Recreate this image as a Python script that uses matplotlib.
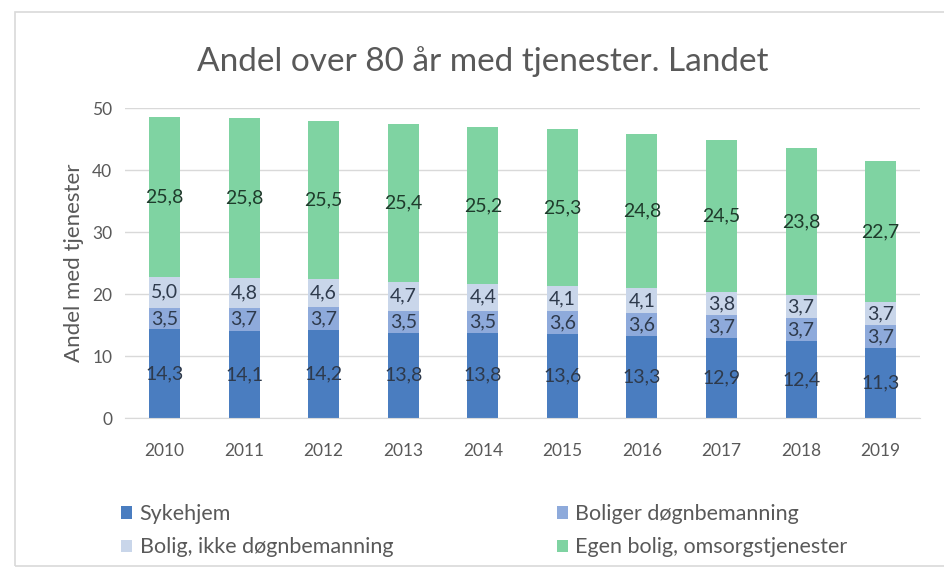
import numpy as np
import matplotlib.pyplot as plt
import matplotlib.patches as patches

plt.rcParams['font.family'] = ['Lato', 'DejaVu Sans']

years = ['2010', '2011', '2012', '2013', '2014', '2015', '2016', '2017', '2018', '2019']
sykehjem = [14.3, 14.1, 14.2, 13.8, 13.8, 13.6, 13.3, 12.9, 12.4, 11.3]
boliger_dogn = [3.5, 3.7, 3.7, 3.5, 3.5, 3.6, 3.6, 3.7, 3.7, 3.7]
bolig_ikke_dogn = [5.0, 4.8, 4.6, 4.7, 4.4, 4.1, 4.1, 3.8, 3.7, 3.7]
egen_bolig = [25.8, 25.8, 25.5, 25.4, 25.2, 25.3, 24.8, 24.5, 23.8, 22.7]

series = [
    ('Sykehjem', sykehjem, '#4a7dc0', '#2e3a4c'),
    ('Boliger døgnbemanning', boliger_dogn, '#8eaadb', '#2e3a4c'),
    ('Bolig, ikke døgnbemanning', bolig_ikke_dogn, '#c9d6ea', '#2e3a4c'),
    ('Egen bolig, omsorgstjenester', egen_bolig, '#7fd3a2', '#1f3b2c'),
]

fig = plt.figure(figsize=(9.45, 5.72), dpi=100)
ax = fig.add_axes([0.132, 0.269, 0.842, 0.542])

x = np.arange(len(years))
bottom = np.zeros(len(years))
handles = {}
for name, vals, col, tcol in series:
    vals = np.array(vals)
    bars = ax.bar(x, vals, 0.39, bottom=bottom, color=col, zorder=2, label=name)
    handles[name] = bars
    for xi, b, v in zip(x, bottom, vals):
        ax.text(xi, b + v / 2, f'{v:.1f}'.replace('.', ','), ha='center', va='center',
                fontsize=14, color=tcol, zorder=3)
    bottom = bottom + vals

ax.set_xlim(-0.5, len(years) - 0.5)
ax.set_ylim(0, 50)
ax.set_yticks(range(0, 51, 10))
ax.set_xticks(x)
ax.set_xticklabels(years)
ax.grid(axis='y', color='#d9d9d9', lw=1, zorder=0)
for s in ['top', 'right', 'left']:
    ax.spines[s].set_visible(False)
ax.spines['bottom'].set_color('#d9d9d9')
ax.tick_params(length=0, labelsize=12.5, colors='#595959', pad=18)
ax.tick_params(axis='y', pad=9)
ax.set_ylabel('Andel med tjenester', fontsize=16, color='#595959', labelpad=6)

fig.text(0.511, 0.893, 'Andel over 80 år med tjenester. Landet', ha='center', va='center',
         fontsize=24, color='#595959')

order = ['Sykehjem', 'Bolig, ikke døgnbemanning', 'Boliger døgnbemanning', 'Egen bolig, omsorgstjenester']
fig.legend([handles[n] for n in order], order, ncol=2, loc='center left',
           bbox_to_anchor=(0.108, 0.072), frameon=False, fontsize=15.5,
           labelcolor='#595959', handlelength=0.5, handleheight=0.5,
           handletextpad=0.35, columnspacing=7.6, labelspacing=0.62)

fig.patches.append(patches.Rectangle((0.016, 0.01), 1.2, 0.969, transform=fig.transFigure,
                                     fill=False, edgecolor='#d9d9d9', lw=1.2, figure=fig))

fig.savefig('out.png', dpi=100)
